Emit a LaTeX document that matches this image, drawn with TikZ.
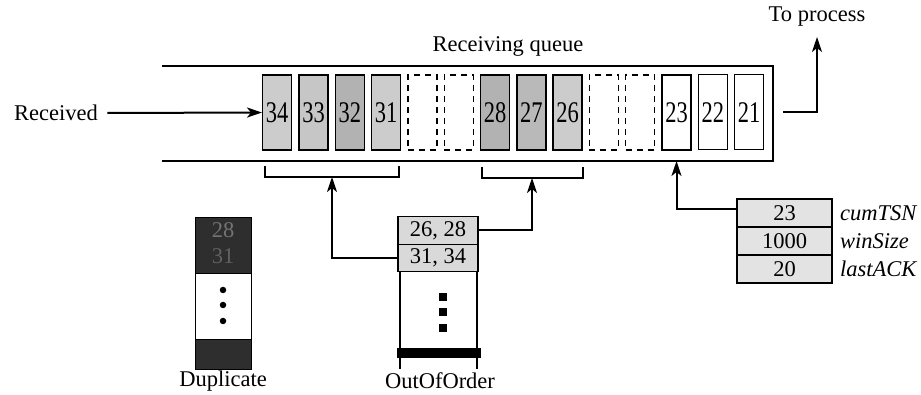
\documentclass[tikz,border=0pt]{standalone}
\usepackage{fontspec}
\setmainfont{Liberation Serif}
\usetikzlibrary{arrows.meta}
\newcommand\cnum[1]{\scalebox{0.75}[1]{\fontsize{30}{30}\selectfont #1}}
\begin{document}
\begin{tikzpicture}[x=1pt,y=-1pt,
  every node/.style={font=\fontsize{22.5}{26}\selectfont},
  cell/.style={draw, line width=1.4pt, minimum width=29pt, minimum height=75pt, inner sep=0pt},
  dcell/.style={cell, dashed, dash pattern=on 6pt off 5pt, line width=1.2pt},
  tcell/.style={cell, line width=1pt},
  row/.style={draw, line width=1.2pt, fill=gray!30, minimum width=80pt, minimum height=27.5pt, inner sep=0pt},
  crow/.style={draw, line width=1.2pt, fill=gray!22, minimum width=95pt, minimum height=28pt, inner sep=0pt},
  lbl/.style={font=\fontsize{22.5}{26}\selectfont\itshape, anchor=west, inner sep=0pt},
  arr/.style={line width=2pt, -{Stealth[length=15pt,width=10pt,inset=4pt]}},
  wire/.style={line width=2pt}]
\useasboundingbox (0,0) rectangle (921,395);

% queue frame
\coordinate (qtl) at (162,66);
\coordinate (qtr) at (773,66);
\coordinate (qbr) at (773,161);
\coordinate (qbl) at (162,161);
\draw[line width=2.4pt] (qtl) -- (qtr) -- (qbr) -- (qbl);
\node (rq) at (508,46) {Receiving queue};

% cells
\node[cell, fill=gray!40] (c0) at (277.2,112.5) {\cnum{34}};
\node[cell, fill=gray!45] (c1) at (313.5,112.5) {\cnum{33}};
\node[cell, fill=gray!60] (c2) at (349.8,112.5) {\cnum{32}};
\node[cell, fill=gray!40] (c3) at (386.1,112.5) {\cnum{31}};
\node[dcell] (c4) at (422.4,112.5) {};
\node[dcell] (c5) at (458.7,112.5) {};
\node[cell, fill=gray!60] (c6) at (495.0,112.5) {\cnum{28}};
\node[cell, fill=gray!55] (c7) at (531.3,112.5) {\cnum{27}};
\node[cell, fill=gray!40] (c8) at (567.6,112.5) {\cnum{26}};
\node[dcell] (c9) at (603.9,112.5) {};
\node[dcell] (c10) at (640.2,112.5) {};
\node[cell] (c11) at (676.5,112.5) {\cnum{23}};
\node[tcell] (c12) at (712.8,112.5) {\cnum{22}};
\node[tcell] (c13) at (749.1,112.5) {\cnum{21}};

% received
\node (rcv) at (56,113) {Received};
\draw[arr] (rcv.east) ++(6pt,0) coordinate (rs) (rs) -- (c0.west);

% to process
\node (tp) at (817,17) {To process};
\coordinate (qout) at (783,112);
\coordinate (tpin) at (817,37);
\draw[arr] (qout) -| (tpin);

% brackets
\coordinate (b1) at (332,177);
\coordinate (b2) at (532,178);
\draw[wire] (265,166) |- (399,177) -- (399,166);
\draw[wire] (482,167) |- (583,178) -- (583,167);

% OutOfOrder
\node[row] (o1) at (438,230.5) {26, 28};
\node[row] (o2) at (438,258) {31, 34};
\coordinate (ol1) at (400,271.8);
\coordinate (ol2) at (400,369);
\coordinate (or1) at (477,271.8);
\coordinate (or2) at (477,369);
\draw[wire] (ol1) -- (ol2) (or1) -- (or2);
\node[fill=black, minimum width=84pt, minimum height=10pt, inner sep=0pt] (obar) at (439,353) {};
\foreach \yy/\nm in {297/s1,312/s2,328/s3}
  \node[fill=black, minimum size=8pt, inner sep=0pt] (\nm) at (443,\yy) {};
\node (ooo) at (440,381) {OutOfOrder};
\draw[arr] (o2.west) -| (b1);
\draw[arr] (o1.east) -| (b2);

% Duplicate
\node[fill=black!82, draw, line width=0.8pt, minimum width=56pt, minimum height=56pt, inner sep=0pt] (d1) at (223,245) {};
\node[text=black!55, inner sep=0pt] (d1a) at (223,230) {28};
\node[text=black!62, inner sep=0pt] (d1b) at (223,256) {31};
\node[draw, line width=0.8pt, fill=white, minimum width=56pt, minimum height=66pt, inner sep=0pt] (d2) at (223,306) {};
\node[fill=black!82, draw, line width=0.8pt, minimum width=56pt, minimum height=30pt, inner sep=0pt] (d3) at (223,354) {};
\foreach \yy/\nm in {290/e1,305/e2,321/e3}
  \node[circle, fill=black, minimum size=6.5pt, inner sep=0pt] (\nm) at (223,\yy) {};
\node (dup) at (223,381) {Duplicate};

% cumTSN box
\node[crow] (k1) at (784.5,213) {23};
\node[crow] (k2) at (784.5,241) {1000};
\node[crow] (k3) at (784.5,269) {20};
\node[lbl] (l1) at (840,213) {cumTSN};
\node[lbl] (l2) at (840,241) {winSize};
\node[lbl] (l3) at (840,269) {lastACK};
\coordinate (q23) at (676.5,161);
\draw[arr] ([yshift=4pt]k1.west) -| (q23);
\end{tikzpicture}
\end{document}
